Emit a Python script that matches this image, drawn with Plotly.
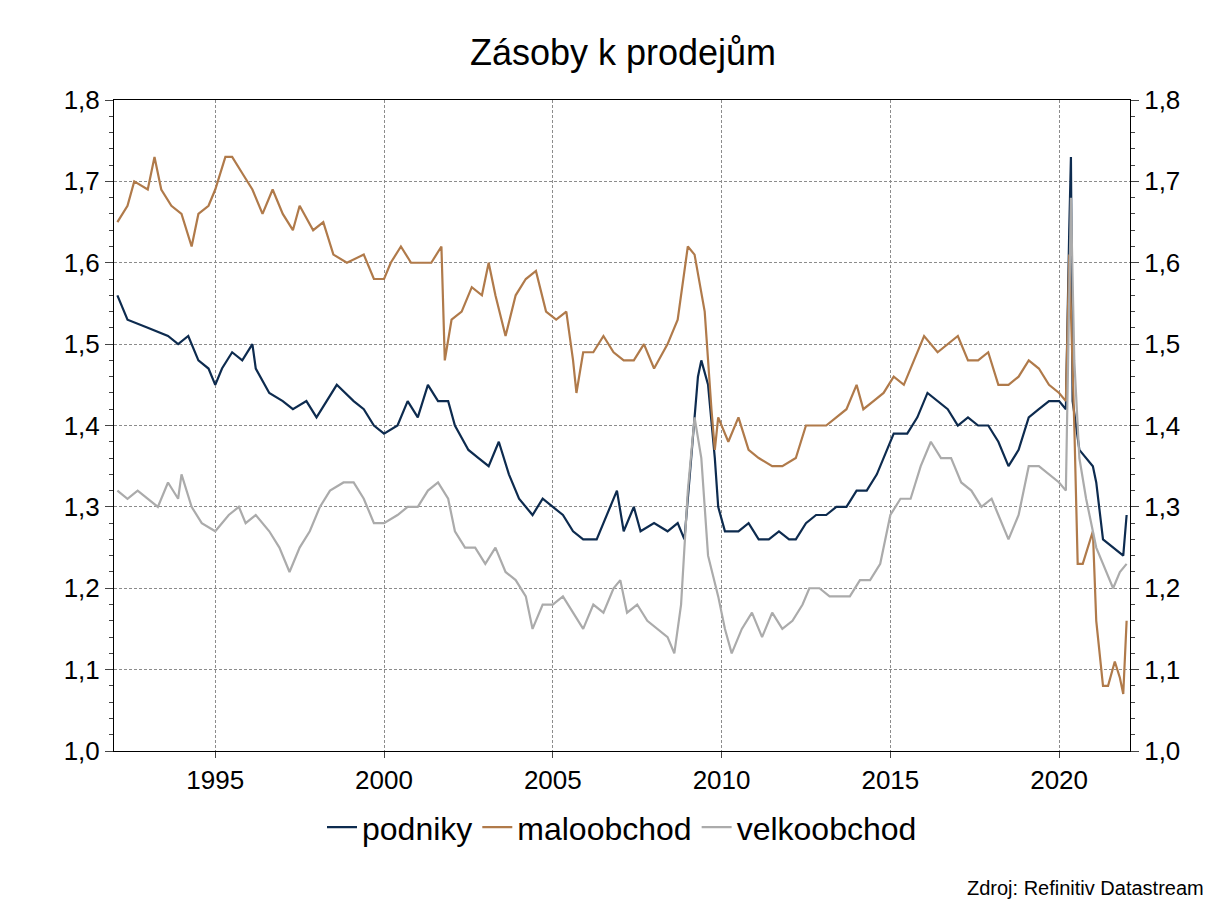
import plotly.graph_objects as go

# --- data (decimal years, ratio) ---
podniky_x = [1992.1, 1992.4, 1993.0, 1993.6, 1993.9, 1994.2, 1994.5, 1994.8, 1995.0, 1995.2, 1995.5, 1995.8,
             1996.1, 1996.2, 1996.6, 1997.0, 1997.3, 1997.7, 1998.0, 1998.3, 1998.6, 1999.1, 1999.4, 1999.7,
             2000.0, 2000.4, 2000.7, 2001.0, 2001.3, 2001.6, 2001.9, 2002.1, 2002.5, 2002.8, 2003.1, 2003.4,
             2003.7, 2004.0, 2004.4, 2004.7, 2005.0, 2005.3, 2005.6, 2005.9, 2006.3, 2006.6, 2006.9, 2007.1,
             2007.4, 2007.6, 2008.0, 2008.4, 2008.7, 2008.9, 2009.1, 2009.3, 2009.4, 2009.6, 2009.8, 2009.9,
             2010.1, 2010.5, 2010.8, 2011.1, 2011.4, 2011.7, 2012.0, 2012.2, 2012.5, 2012.8, 2013.1, 2013.4,
             2013.7, 2014.0, 2014.3, 2014.6, 2014.9, 2015.1, 2015.5, 2015.8, 2016.1, 2016.4, 2016.7, 2017.0,
             2017.3, 2017.6, 2017.9, 2018.2, 2018.5, 2018.8, 2019.1, 2019.4, 2019.7, 2020.0, 2020.2, 2020.3,
             2020.35, 2020.4, 2020.6, 2021.0, 2021.1, 2021.3, 2021.6, 2021.9, 2022.0]
podniky_y = [1.56, 1.53, 1.52, 1.51, 1.50, 1.51, 1.48, 1.47, 1.45, 1.47, 1.49, 1.48,
             1.50, 1.47, 1.44, 1.43, 1.42, 1.43, 1.41, 1.43, 1.45, 1.43, 1.42, 1.40,
             1.39, 1.40, 1.43, 1.41, 1.45, 1.43, 1.43, 1.40, 1.37, 1.36, 1.35, 1.38,
             1.34, 1.31, 1.29, 1.31, 1.30, 1.29, 1.27, 1.26, 1.26, 1.29, 1.32, 1.27,
             1.30, 1.27, 1.28, 1.27, 1.28, 1.26, 1.36, 1.46, 1.48, 1.45, 1.36, 1.30,
             1.27, 1.27, 1.28, 1.26, 1.26, 1.27, 1.26, 1.26, 1.28, 1.29, 1.29, 1.30,
             1.30, 1.32, 1.32, 1.34, 1.37, 1.39, 1.39, 1.41, 1.44, 1.43, 1.42, 1.40,
             1.41, 1.40, 1.40, 1.38, 1.35, 1.37, 1.41, 1.42, 1.43, 1.43, 1.42, 1.64,
             1.73, 1.43, 1.37, 1.35, 1.33, 1.26, 1.25, 1.24, 1.29]

malo_x = [1992.1, 1992.4, 1992.6, 1993.0, 1993.2, 1993.4, 1993.7, 1994.0, 1994.3, 1994.5, 1994.8, 1995.0,
          1995.3, 1995.5, 1995.8, 1996.1, 1996.4, 1996.7, 1997.0, 1997.3, 1997.5, 1997.9, 1998.2, 1998.5,
          1998.9, 1999.4, 1999.7, 2000.0, 2000.2, 2000.5, 2000.8, 2001.1, 2001.4, 2001.7, 2001.8, 2002.0,
          2002.3, 2002.6, 2002.9, 2003.1, 2003.3, 2003.6, 2003.9, 2004.2, 2004.5, 2004.8, 2005.1, 2005.4,
          2005.6, 2005.7, 2005.9, 2006.2, 2006.5, 2006.8, 2007.1, 2007.4, 2007.7, 2008.0, 2008.4, 2008.7,
          2009.0, 2009.2, 2009.5, 2009.7, 2009.8, 2009.9, 2010.2, 2010.5, 2010.8, 2011.1, 2011.5, 2011.8,
          2012.2, 2012.5, 2012.8, 2013.1, 2013.4, 2013.7, 2014.0, 2014.2, 2014.5, 2014.8, 2015.1, 2015.4,
          2015.7, 2016.0, 2016.4, 2016.7, 2017.0, 2017.3, 2017.6, 2017.9, 2018.2, 2018.5, 2018.8, 2019.1,
          2019.4, 2019.7, 2020.0, 2020.2, 2020.3, 2020.45, 2020.55, 2020.7, 2021.0, 2021.1, 2021.3, 2021.45,
          2021.65, 2021.8, 2021.9, 2022.0]
malo_y = [1.65, 1.67, 1.70, 1.69, 1.73, 1.69, 1.67, 1.66, 1.62, 1.66, 1.67, 1.69,
          1.73, 1.73, 1.71, 1.69, 1.66, 1.69, 1.66, 1.64, 1.67, 1.64, 1.65, 1.61,
          1.60, 1.61, 1.58, 1.58, 1.60, 1.62, 1.60, 1.60, 1.60, 1.62, 1.48, 1.53,
          1.54, 1.57, 1.56, 1.60, 1.56, 1.51, 1.56, 1.58, 1.59, 1.54, 1.53, 1.54,
          1.48, 1.44, 1.49, 1.49, 1.51, 1.49, 1.48, 1.48, 1.50, 1.47, 1.50, 1.53,
          1.62, 1.61, 1.54, 1.42, 1.37, 1.41, 1.38, 1.41, 1.37, 1.36, 1.35, 1.35,
          1.36, 1.40, 1.40, 1.40, 1.41, 1.42, 1.45, 1.42, 1.43, 1.44, 1.46, 1.45,
          1.48, 1.51, 1.49, 1.50, 1.51, 1.48, 1.48, 1.49, 1.45, 1.45, 1.46, 1.48,
          1.47, 1.45, 1.44, 1.43, 1.61, 1.40, 1.23, 1.23, 1.27, 1.16, 1.08, 1.08,
          1.11, 1.09, 1.07, 1.16]

velko_x = [1992.1, 1992.4, 1992.7, 1993.0, 1993.3, 1993.6, 1993.9, 1994.0, 1994.3, 1994.6, 1995.0, 1995.4,
           1995.7, 1995.9, 1996.2, 1996.6, 1996.9, 1997.2, 1997.5, 1997.8, 1998.1, 1998.4, 1998.8, 1999.1,
           1999.4, 1999.7, 2000.0, 2000.4, 2000.7, 2001.0, 2001.3, 2001.6, 2001.9, 2002.1, 2002.4, 2002.7,
           2003.0, 2003.3, 2003.6, 2003.9, 2004.2, 2004.4, 2004.7, 2005.0, 2005.3, 2005.6, 2005.9, 2006.2,
           2006.5, 2006.8, 2007.0, 2007.2, 2007.5, 2007.8, 2008.1, 2008.4, 2008.6, 2008.8, 2009.0, 2009.2,
           2009.4, 2009.6, 2009.9, 2010.1, 2010.3, 2010.6, 2010.9, 2011.2, 2011.5, 2011.8, 2012.1, 2012.4,
           2012.6, 2012.9, 2013.2, 2013.5, 2013.8, 2014.1, 2014.4, 2014.7, 2015.0, 2015.3, 2015.6, 2015.9,
           2016.2, 2016.5, 2016.8, 2017.1, 2017.4, 2017.7, 2018.0, 2018.2, 2018.5, 2018.8, 2019.1, 2019.4,
           2019.7, 2020.0, 2020.2, 2020.35, 2020.45, 2020.6, 2020.8, 2021.1, 2021.3, 2021.6, 2021.8, 2022.0]
velko_y = [1.32, 1.31, 1.32, 1.31, 1.30, 1.33, 1.31, 1.34, 1.30, 1.28, 1.27, 1.29,
           1.30, 1.28, 1.29, 1.27, 1.25, 1.22, 1.25, 1.27, 1.30, 1.32, 1.33, 1.33,
           1.31, 1.28, 1.28, 1.29, 1.30, 1.30, 1.32, 1.33, 1.31, 1.27, 1.25, 1.25,
           1.23, 1.25, 1.22, 1.21, 1.19, 1.15, 1.18, 1.18, 1.19, 1.17, 1.15, 1.18,
           1.17, 1.20, 1.21, 1.17, 1.18, 1.16, 1.15, 1.14, 1.12, 1.18, 1.32, 1.41,
           1.36, 1.24, 1.19, 1.15, 1.12, 1.15, 1.17, 1.14, 1.17, 1.15, 1.16, 1.18,
           1.20, 1.20, 1.19, 1.19, 1.19, 1.21, 1.21, 1.23, 1.29, 1.31, 1.31, 1.35,
           1.38, 1.36, 1.36, 1.33, 1.32, 1.30, 1.31, 1.29, 1.26, 1.29, 1.35, 1.35,
           1.34, 1.33, 1.32, 1.68, 1.48, 1.36, 1.31, 1.25, 1.23, 1.20, 1.22, 1.23]

year_ticks = [1995, 2000, 2005, 2010, 2015, 2020]
y_ticks = [1.0, 1.1, 1.2, 1.3, 1.4, 1.5, 1.6, 1.7, 1.8]
y_labels = [f"{v:.1f}".replace(".", ",") for v in y_ticks]

fig = go.Figure()
fig.add_trace(go.Scatter(x=podniky_x, y=podniky_y, name="podniky", mode="lines",
                         line=dict(color="#0d2b4f", width=2.2)))
fig.add_trace(go.Scatter(x=malo_x, y=malo_y, name="maloobchod", mode="lines",
                         line=dict(color="#b07a4a", width=2.2)))
fig.add_trace(go.Scatter(x=velko_x, y=velko_y, name="velkoobchod", mode="lines",
                         line=dict(color="#ababab", width=2.2)))
# dummy trace so the right axis is drawn
fig.add_trace(go.Scatter(x=[1992.0], y=[1.0], yaxis="y2", mode="markers",
                         marker=dict(opacity=0), showlegend=False, hoverinfo="skip"))

axis_common = dict(showline=True, linecolor="black", linewidth=1, zeroline=False, automargin=False,
                   tickfont=dict(size=26, color="black"))
grid = dict(gridcolor="#8c8c8c", griddash="3px,2px", gridwidth=1)

fig.update_layout(
    width=1230, height=911,
    paper_bgcolor="white", plot_bgcolor="white",
    font=dict(family="Arial, Liberation Sans, sans-serif", color="black"),
    title=dict(text="Zásoby k prodejům", x=0.5, xanchor="center", y=0.965,
               font=dict(size=36, color="black")),
    margin=dict(l=106, r=108, t=92, b=168, autoexpand=False),
    xaxis=dict(range=[1992.0, 2022.1], tickvals=year_ticks, ticks="outside", ticklen=6,
               mirror=True, **axis_common, **grid),
    yaxis=dict(range=[1.0, 1.8], tickvals=y_ticks, ticktext=y_labels, ticks="outside", ticklen=8,
               minor=dict(dtick=0.02, ticks="outside", ticklen=4, showgrid=False),
               **axis_common, **grid),
    yaxis2=dict(range=[1.0, 1.8], overlaying="y", side="right", tickvals=y_ticks, ticktext=y_labels,
                ticks="outside", ticklen=8, showgrid=False,
                minor=dict(dtick=0.02, ticks="outside", ticklen=4, showgrid=False),
                **axis_common),
    legend=dict(orientation="h", x=0.5, xanchor="center", y=-0.075, yanchor="top",
                font=dict(size=32), tracegroupgap=0),
    showlegend=True,
)
fig.add_annotation(text="Zdroj: Refinitiv Datastream", xref="paper", yref="paper",
                   x=1.075, y=-0.19, xanchor="right", yanchor="top", showarrow=False,
                   font=dict(size=20, color="black"))

fig.write_html("out.html")
